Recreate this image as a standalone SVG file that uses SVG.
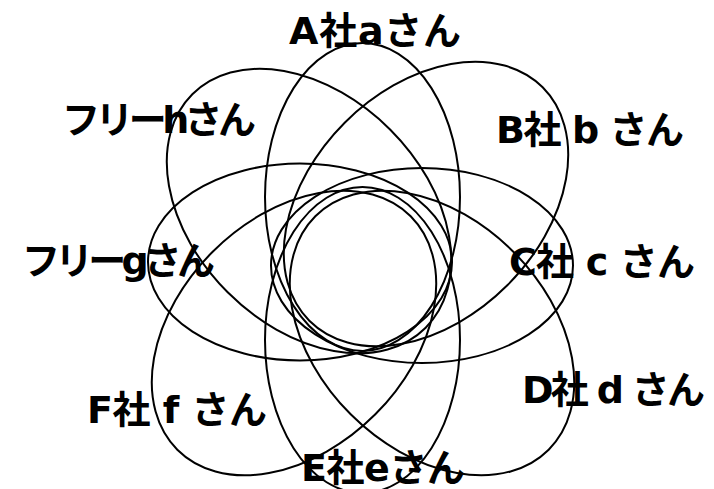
<svg xmlns="http://www.w3.org/2000/svg" width="714" height="489" viewBox="0 0 714 489">
  <style>
    .ring { fill: none; stroke: #000; stroke-width: 2; }
    .label { font-family: "DejaVu Sans", "Noto Sans CJK JP", sans-serif; font-weight: bold; font-size: 38px; fill: #000; }
  </style>
  <rect width="714" height="489" fill="#fff"/>
  <g id="node-a">
    <ellipse class="ring" cx="362.5" cy="197" rx="97.5" ry="154"/>
    <text class="label" x="289" y="44" textLength="172" lengthAdjust="spacing">A社aさん</text>
  </g>
  <g id="node-b">
    <ellipse class="ring" cx="0" cy="0" rx="165" ry="115" transform="translate(426 204) rotate(-45)"/>
    <text class="label" x="496" y="143" textLength="188" lengthAdjust="spacing">B社 b さん</text>
  </g>
  <g id="node-c">
    <ellipse class="ring" cx="422" cy="265.5" rx="151" ry="97.5"/>
    <text class="label" x="509" y="275" textLength="186" lengthAdjust="spacing">C社 c さん</text>
  </g>
  <g id="node-d">
    <ellipse class="ring" cx="0" cy="0" rx="165" ry="115" transform="translate(432 333) rotate(45)"/>
    <text class="label" x="522" y="403" textLength="183" lengthAdjust="spacing">D社 d さん</text>
  </g>
  <g id="node-e">
    <ellipse class="ring" cx="362.5" cy="340" rx="97.5" ry="153"/>
    <text class="label" x="301" y="481" textLength="164" lengthAdjust="spacing">E社eさん</text>
  </g>
  <g id="node-f">
    <ellipse class="ring" cx="0" cy="0" rx="165" ry="115" transform="translate(294 333) rotate(-45)"/>
    <text class="label" x="87" y="423" textLength="180" lengthAdjust="spacing">F社 f さん</text>
  </g>
  <g id="node-g">
    <ellipse class="ring" cx="300" cy="262" rx="152" ry="98.5"/>
    <text class="label" x="22" y="274" textLength="193" lengthAdjust="spacing">フリーgさん</text>
  </g>
  <g id="node-h">
    <ellipse class="ring" cx="0" cy="0" rx="165" ry="115" transform="translate(309 211) rotate(45)"/>
    <text class="label" x="62" y="133" textLength="194" lengthAdjust="spacing">フリーhさん</text>
  </g>
  <g id="connectors"/>
</svg>
